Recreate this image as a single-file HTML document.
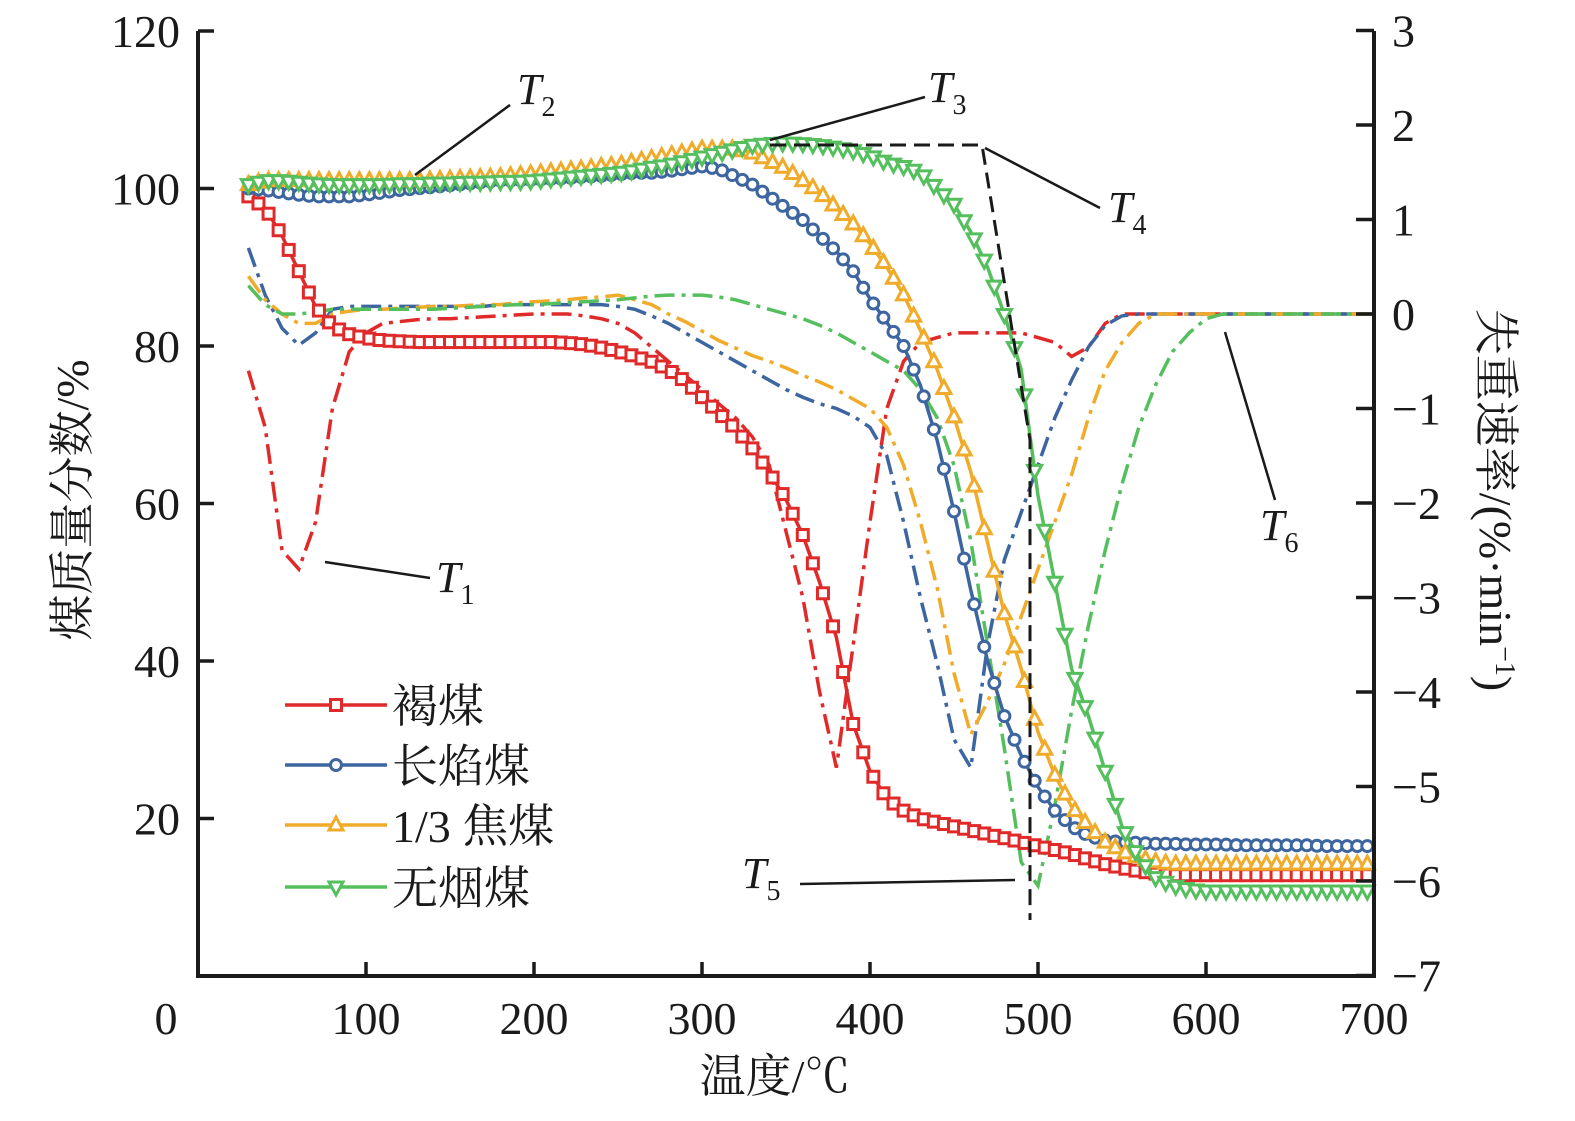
<!DOCTYPE html>
<html><head><meta charset="utf-8"><style>
html,body{margin:0;padding:0;background:#fff}
svg text{font-family:"Liberation Serif","Noto Serif CJK SC",serif;fill:#1a1a1a}
</style></head><body>
<svg id="chart" width="1575" height="1116" viewBox="0 0 1575 1116" xmlns="http://www.w3.org/2000/svg">
<g id="plot"></g>
</svg>
<script>
const temps = [30,40,50,60,70,80,90,100,110,120,130,140,150,160,170,180,190,200,210,220,230,240,250,260,270,280,290,300,310,320,330,340,350,360,370,380,390,400,410,420,430,440,450,460,470,480,490,500,510,520,530,540,550,560,570,580,590,600,610,620,630,640,650,660,670,680,690,700];
const tgLignite = [99,97.5,94,89.5,85,82.5,81.5,81,80.7,80.6,80.5,80.5,80.5,80.5,80.5,80.5,80.5,80.5,80.5,80.4,80.2,79.8,79.3,78.7,78,77,75.5,73.5,71.5,69.5,67,64,60.5,56,50,43,32,26,22.5,21,20,19.5,19,18.5,18,17.5,17,16.5,16,15.5,14.8,14.2,13.7,13.3,13,12.8,12.8,12.8,12.8,12.8,12.8,12.8,12.8,12.8,12.8,12.8,12.8,12.8];
const tgLongFlame = [100,99.8,99.5,99.2,99,99,99,99.2,99.5,99.8,100,100.2,100.4,100.6,100.8,101,101,101.1,101.2,101.3,101.5,101.6,101.8,102,102,102.2,102.5,102.8,102.5,101.5,100.5,99,97.5,96,94,92,89.5,86,83,80,75,68,59,49,40,33,28,24,21,19,17.8,17.2,17,16.9,16.8,16.8,16.7,16.7,16.7,16.6,16.6,16.6,16.6,16.6,16.5,16.5,16.5,16.5];
const tgCoking = [100.5,101,101,101,101,101,101,101,101,101,101,101.1,101.2,101.3,101.4,101.5,101.7,101.9,102.1,102.3,102.5,102.8,103,103.4,103.8,104.2,104.6,105,105,105,104.5,103.5,102.5,101,99.5,97.5,95.5,93,90,86.5,82,77,71,64,55,46,39,31,25.5,21.5,19,17,15.8,15,14.5,14.2,14.2,14.2,14.2,14.2,14.2,14.2,14.2,14.2,14.2,14.2,14.2,14.2];
const tgAnthracite = [100.5,101,101,100.8,100.6,100.5,100.5,100.5,100.5,100.6,100.6,100.7,100.7,100.8,100.8,100.9,100.9,101,101.2,101.4,101.6,101.8,102,102.3,102.7,103,103.5,104,104.5,105,105.5,105.7,105.8,105.7,105.5,105.2,104.8,104.2,103.3,102.8,102,100,98,94.5,90,84,77,61,50,39,33,26,19,15,12.5,11.5,11,10.8,10.8,10.8,10.8,10.8,10.8,10.8,10.8,10.8,10.8,10.8];
const dtgLignite = [-0.6,-1.2,-2.5,-2.7,-2.2,-1.0,-0.4,-0.2,-0.1,-0.08,-0.06,-0.05,-0.05,-0.04,-0.03,-0.02,-0.01,0,0,0,-0.02,-0.05,-0.1,-0.2,-0.35,-0.5,-0.65,-0.8,-0.95,-1.1,-1.3,-1.6,-2.3,-3.0,-4.0,-4.8,-3.5,-2.2,-1.0,-0.5,-0.3,-0.25,-0.2,-0.2,-0.2,-0.2,-0.2,-0.25,-0.3,-0.45,-0.35,-0.1,0,0,0,0,0,0,0,0,0,0,0,0,0,0,0,0];
const dtgLongFlame = [0.7,0.2,-0.15,-0.33,-0.2,0.05,0.08,0.08,0.08,0.08,0.08,0.08,0.08,0.08,0.08,0.1,0.1,0.1,0.1,0.1,0.1,0.1,0.08,0.05,-0.02,-0.1,-0.2,-0.3,-0.4,-0.5,-0.6,-0.7,-0.8,-0.88,-0.95,-1.0,-1.08,-1.2,-1.5,-2.2,-3.0,-3.7,-4.5,-4.8,-3.5,-2.6,-2.1,-1.6,-1.1,-0.7,-0.35,-0.12,-0.02,0,0,0,0,0,0,0,0,0,0,0,0,0,0,0];
const dtgCoking = [0.4,0.15,0,-0.1,-0.1,0,0.03,0.05,0.05,0.06,0.07,0.08,0.08,0.09,0.1,0.1,0.12,0.13,0.14,0.15,0.17,0.18,0.2,0.15,0.1,0,-0.08,-0.18,-0.28,-0.36,-0.44,-0.5,-0.57,-0.65,-0.72,-0.8,-0.9,-1.0,-1.2,-1.6,-2.2,-2.9,-3.8,-4.45,-4.1,-3.7,-3.2,-2.7,-2.2,-1.7,-1.1,-0.6,-0.3,-0.1,0,0,0,0,0,0,0,0,0,0,0,0,0,0];
const dtgAnthracite = [0.3,0.1,0,0,0.02,0.05,0.05,0.05,0.05,0.05,0.05,0.05,0.06,0.07,0.08,0.09,0.1,0.1,0.11,0.12,0.13,0.14,0.15,0.17,0.19,0.2,0.2,0.2,0.18,0.15,0.1,0.05,0,-0.05,-0.12,-0.2,-0.3,-0.4,-0.5,-0.6,-0.8,-1.1,-1.6,-2.4,-3.5,-4.6,-5.8,-6.05,-5.2,-4.2,-3.3,-2.5,-1.8,-1.2,-0.75,-0.4,-0.2,-0.05,0,0,0,0,0,0,0,0,0,0];
const xTicks = [100,200,300,400,500,600,700];
const yLeftTicks = [20,40,60,80,100,120];
const yRightTicks = [3,2,1,0,-1,-2,-3,-4,-5,-6,-7];

const X = t => 198 + t*1.68;
const YL = v => 976 - v*7.875;
const YR = v => 314 - v*94.5;
const NS = 'http://www.w3.org/2000/svg';
const g = document.getElementById('plot');
function mk(tag, attrs, parent){const e=document.createElementNS(NS,tag);for(const k in attrs)e.setAttribute(k,attrs[k]);(parent||g).appendChild(e);return e;}
function txt(s,x,y,size,anchor,parent){const e=mk('text',{x:x,y:y,'font-size':size,'text-anchor':anchor||'middle'},parent);e.textContent=s;return e;}
function interp(arr,t){for(let i=1;i<temps.length;i++){if(t<=temps[i]){const f=(t-temps[i-1])/(temps[i]-temps[i-1]);return arr[i-1]+f*(arr[i]-arr[i-1]);}}return arr[arr.length-1];}

const red='#e02a2a', blue='#3d65a0', orange='#f0ab2a', green='#55bf5e';

const dtgs=[[dtgLignite,red,'dtg-lignite'],[dtgLongFlame,blue,'dtg-long-flame-coal'],[dtgCoking,orange,'dtg-coking-coal'],[dtgAnthracite,green,'dtg-anthracite']];
dtgs.forEach(([arr,c,n])=>{
  const d=arr.map((v,i)=>(i?'L':'M')+X(temps[i]).toFixed(1)+','+YR(v).toFixed(1)).join('');
  const p=mk('path',{d:d,fill:'none',stroke:c,'stroke-width':3.5,'stroke-dasharray':'20 7 4 7'});
  
  
});

function marker(type,x,y,c,parent){
  let e;
  if(type==='sq') e=mk('rect',{x:x-5.5,y:y-5.5,width:11,height:11,fill:'#fff',stroke:c,'stroke-width':3},parent);
  else if(type==='ci') e=mk('circle',{cx:x,cy:y,r:5.5,fill:'#fff',stroke:c,'stroke-width':3},parent);
  else if(type==='up') e=mk('path',{d:`M${x},${y-8}L${x+7},${y+5}L${x-7},${y+5}Z`,fill:'#fff',stroke:c,'stroke-width':3},parent);
  else e=mk('path',{d:`M${x},${y+8}L${x+7},${y-5}L${x-7},${y-5}Z`,fill:'#fff',stroke:c,'stroke-width':3},parent);
  
  
}
const tgs=[[tgLignite,red,'sq','tg-lignite'],[tgLongFlame,blue,'ci','tg-long-flame-coal'],[tgCoking,orange,'up','tg-coking-coal'],[tgAnthracite,green,'dn','tg-anthracite']];
tgs.forEach(([arr,c,m,n])=>{
  const grp=mk('g',{});
  
  
  const d=arr.map((v,i)=>(i?'L':'M')+X(temps[i]).toFixed(1)+','+YL(v).toFixed(1)).join('');
  mk('path',{d:d,fill:'none',stroke:c,'stroke-width':3.5},grp);
  for(let t=30;t<=700;t+=6){marker(m,X(t),YL(interp(arr,t)),c,grp);}
});

const dl=mk('path',{d:'M770,145L982,145L1030,440L1030,920',fill:'none',stroke:'#1a1a1a','stroke-width':3,'stroke-dasharray':'16 8'});



const ann=[['T','2',415,175,510,105,517,104],['T','3',770,140,925,97,928,102],['T','4',985,148,1100,208,1108,222],['T','1',325,562,430,578,436,592],['T','5',800,884,1015,880,742,888],['T','6',1225,332,1275,500,1260,540]];
ann.forEach((a,i)=>{
  const l=mk('line',{x1:a[2],y1:a[3],x2:a[4],y2:a[5],stroke:'#1a1a1a','stroke-width':2.5});
  
  
  const t=mk('text',{x:a[6],y:a[7],'font-size':44,'font-style':'italic','text-anchor':'start'});
  
  
  t.innerHTML='T<tspan font-size="28" font-style="normal" dy="12">'+a[1]+'</tspan>';
});

const ax=mk('path',{d:'M198,31L198,976L1374,976L1374,31',fill:'none',stroke:'#1a1a1a','stroke-width':4});


xTicks.forEach(t=>{
  mk('line',{x1:X(t),y1:976,x2:X(t),y2:962,stroke:'#1a1a1a','stroke-width':3.5});
  const e=txt(String(t),X(t),1034,46);
  
  
});
const z=txt('0',166,1034,46);


yLeftTicks.forEach(v=>{
  mk('line',{x1:198,y1:YL(v),x2:214,y2:YL(v),stroke:'#1a1a1a','stroke-width':3.5});
  const e=txt(String(v),180,YL(v)+16,46,'end');
  
  
});
yRightTicks.forEach(v=>{
  mk('line',{x1:1374,y1:YR(v),x2:1356,y2:YR(v),stroke:'#1a1a1a','stroke-width':3.5});
  const e=txt(v<0?'\u2212'+(-v):String(v),1392,YR(v)+16,46,'start');
  
  
});
const xt=txt('温度/℃',775,1092,46);


const yt=mk('text',{x:0,y:0,'font-size':46,'text-anchor':'middle',transform:'translate(88,500) rotate(-90)'});
yt.textContent='煤质量分数/%';


const yr=mk('text',{x:0,y:0,'font-size':46,'text-anchor':'middle',transform:'translate(1480,500) rotate(90)'});
yr.innerHTML='失重速率/(%·min<tspan font-size="28" dy="-16">−1</tspan><tspan dy="16">)</tspan>';



const leg=mk('g',{});


const legItems=[['褐煤',red,'sq',705],['长焰煤',blue,'ci',765],['1/3 焦煤',orange,'up',825],['无烟煤',green,'dn',887]];
legItems.forEach(([s,c,m,y])=>{
  const gi=mk('g',{},leg);
  
  
  mk('line',{x1:285,y1:y,x2:387,y2:y,stroke:c,'stroke-width':3.5},gi);
  marker(m,336,y,c,gi);
  txt(s,392,y+17,46,'start',gi);
});
</script>
</body></html>
